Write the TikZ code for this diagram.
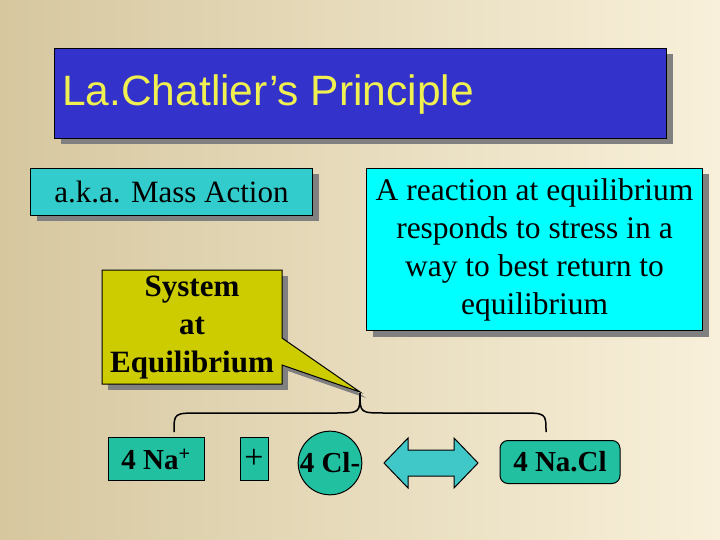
\documentclass[tikz,border=0pt]{standalone}
\usepackage{fontspec}
\setmainfont{Liberation Serif}
\newfontfamily\arialf{Liberation Sans}
\usetikzlibrary{shadows}
\definecolor{bgl}{HTML}{D6C79F}
\definecolor{bgr}{HTML}{F8F0DA}
\definecolor{titleblue}{HTML}{3333CC}
\definecolor{titleyel}{HTML}{F0F050}
\definecolor{tealc}{HTML}{33CCCC}
\definecolor{cyanc}{HTML}{00FFFF}
\definecolor{olivec}{HTML}{CCCC00}
\definecolor{greent}{HTML}{20C0A0}
\definecolor{arrowc}{HTML}{40C8C8}
\begin{document}
\begin{tikzpicture}[x=1pt,y=-1pt,
  shad/.style={drop shadow={shadow xshift=6pt,shadow yshift=-6pt,fill=black!50,opacity=1}},
  boxy/.style={draw=black,line width=1pt,shad,inner sep=0pt},
  eqbox/.style={draw=black,line width=1pt,fill=greent,inner sep=0pt,font=\bfseries\fontsize{29}{30}\selectfont}]
\shade[left color=bgl,right color=bgr] (0,0) rectangle (720,540);
\useasboundingbox (0,0) rectangle (720,540);
\node[boxy,fill=titleblue,minimum width=612pt,minimum height=90pt,anchor=north west] (title) at (54,48) {};
\node[anchor=west,text=titleyel,font=\arialf\fontsize{42.5}{46}\selectfont,inner sep=0pt] (tt) at (62,95) {La.Chatlier’s Principle};
\node[boxy,fill=tealc,minimum width=282pt,minimum height=47pt,anchor=north west,font=\fontsize{31}{32}\selectfont] (mass) at (30,168) {a.k.a. Mass Action};
\node[boxy,fill=cyanc,minimum width=336pt,minimum height=162pt,anchor=north west,align=center,font=\fontsize{31.5}{38}\selectfont] (rx) at (366,168) {A reaction at equilibrium\\responds to stress in a\\way to best return to\\equilibrium};
% callout
\fill[black!50] (108,276) rectangle (288,390);
\fill[black!50] (288,344) -- (366,398) -- (288,371) -- cycle;
\draw[fill=olivec,line width=1pt] (102,270) -- (282,270) -- (282,338) -- (360,392) -- (282,365) -- (282,384) -- (102,384) -- cycle;
\node[align=center,font=\bfseries\fontsize{31}{38}\selectfont] (sys) at (192,328) {System\\at\\Equilibrium};
% brace
\coordinate (bl) at (174,432);
\coordinate (bm) at (360,393);
\coordinate (br) at (546,432);
\draw[line width=1.5pt] (bl) .. controls (174,413) .. (200,413) -- (335,413) .. controls (360,413) .. (bm);
\draw[line width=1.5pt] (bm) .. controls (360,413) .. (385,413) -- (520,413) .. controls (546,413) .. (br);
% equation
\node[eqbox,minimum width=96pt,minimum height=43pt] (na) at (156,459) {4 Na\textsuperscript{+}};
\node[eqbox,minimum width=28pt,minimum height=43pt,font=\fontsize{34}{34}\selectfont] (plus) at (254,459) {+};
\node[eqbox,circle,minimum size=56pt] (cl) at (330,463) {4 Cl-};
\node[eqbox,rounded corners=8pt,minimum width=120pt,minimum height=43pt] (nacl) at (560,462) {4 Na.Cl};
\draw[line width=1pt,fill=arrowc] (384,463) -- (408,438) -- (408,450) -- (454,450) -- (454,438) -- (478,463) -- (454,488) -- (454,476) -- (408,476) -- (408,488) -- cycle;
\end{tikzpicture}
\end{document}
